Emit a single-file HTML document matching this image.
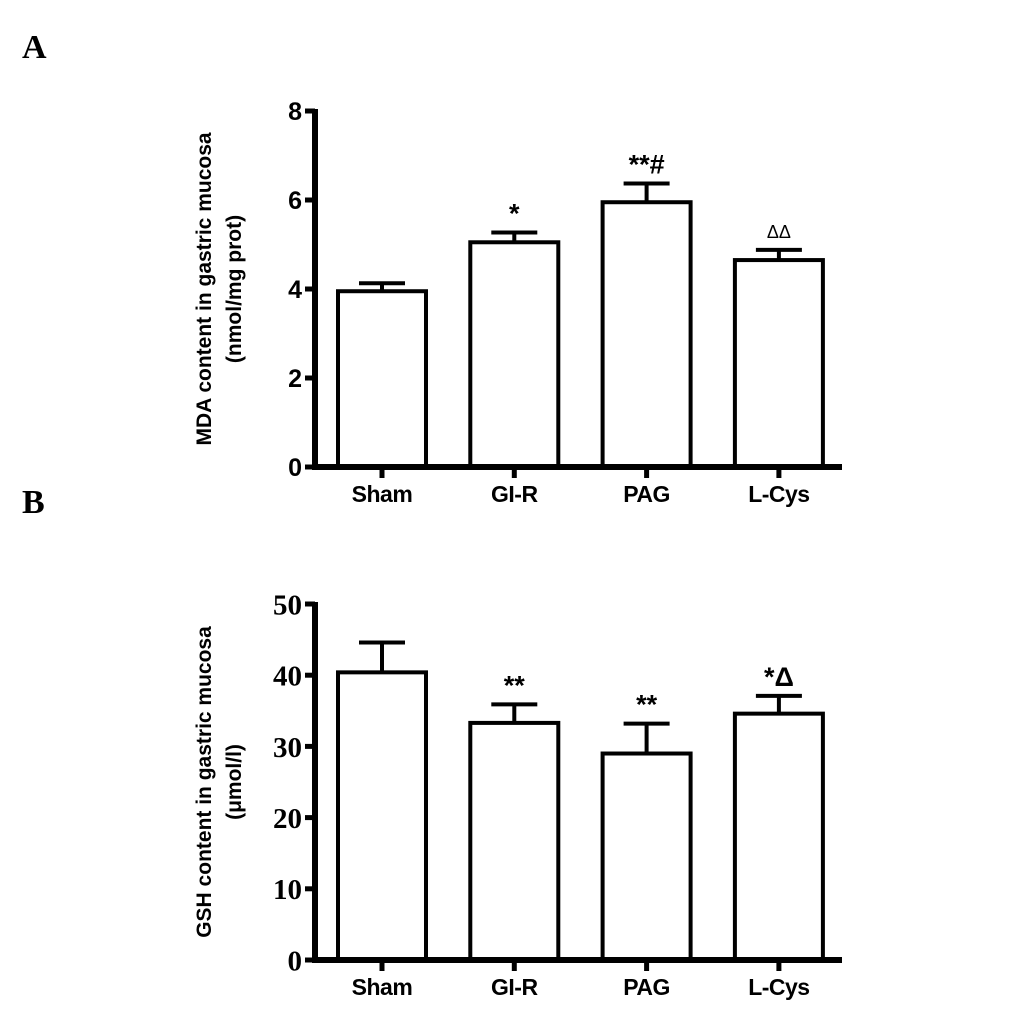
<!DOCTYPE html>
<html><head><meta charset="utf-8"><style>
body{margin:0;background:#fff;}
svg{display:block;}
</style></head><body>
<svg id="c" width="1033" height="1032" xmlns="http://www.w3.org/2000/svg">
<text x="22" y="58" font-family="Liberation Serif" font-weight="bold" font-size="34">A</text>
<text x="22" y="513" font-family="Liberation Serif" font-weight="bold" font-size="34">B</text>
<g id="ga"></g>
<g id="gb"></g>
</svg>
<script>
const categories=["Sham","GI-R","PAG","L-Cys"];
const mdaValues=[3.95,5.05,5.95,4.65];
const mdaErrors=[0.18,0.22,0.42,0.23];
const mdaMarks=["","*","**#","ΔΔ"];
const mdaTicks=[0,2,4,6,8];
const gshValues=[40.4,33.3,29.0,34.6];
const gshErrors=[4.2,2.6,4.2,2.5];
const gshMarks=["","**","**","*Δ"];
const gshTicks=[0,10,20,30,40,50];
const NS="http://www.w3.org/2000/svg";
function mk(p,t,a){const e=document.createElementNS(NS,t);for(const k in a)e.setAttribute(k,a[k]);p.appendChild(e);return e;}
function draw(g,o){
  const x0=315,x1=842,y0=o.y0,yTop=o.yTop,max=o.max;
  const y=v=>y0-(v/max)*(y0-yTop);
  const xc=i=>382+i*132.3;
  let e;
  categories.forEach((c,i)=>{
    const cx=xc(i);
    mk(g,'line',{x1:cx,y1:y0,x2:cx,y2:y0+11,stroke:'#000','stroke-width':5});
    e=mk(g,'text',{x:cx,y:y0+35,'text-anchor':'middle','font-family':'Liberation Sans','font-weight':'bold','font-size':23,'letter-spacing':'-0.5'});
    e.textContent=c;
    
    
    const v=o.vals[i],er=o.errs[i];
    mk(g,'line',{x1:cx,y1:y(v),x2:cx,y2:y(v+er),stroke:'#000','stroke-width':4});
    mk(g,'line',{x1:cx-23,y1:y(v+er),x2:cx+23,y2:y(v+er),stroke:'#000','stroke-width':4});
    e=mk(g,'rect',{x:cx-44,y:y(v),width:88,height:y0-y(v),fill:'#fff',stroke:'#000','stroke-width':4});
    
    
    if(o.marks[i]){
      const onlyD=o.marks[i].includes('Δ')&&!o.marks[i].includes('*');
      e=mk(g,'text',{x:cx,y:y(v+er)-(onlyD?12:10),'text-anchor':'middle','font-family':'Liberation Sans','font-weight':onlyD?'normal':'bold','font-size':onlyD?18:27});
      e.textContent=o.marks[i];
      
      
    }
  });
  e=mk(g,'line',{x1:x0,y1:y0,x2:x0,y2:yTop-2,stroke:'#000','stroke-width':6});
  
  
  e=mk(g,'line',{x1:x0-3,y1:y0,x2:x1,y2:y0,stroke:'#000','stroke-width':6});
  
  
  o.ticks.forEach(t=>{
    mk(g,'line',{x1:x0-10,y1:y(t),x2:x0,y2:y(t),stroke:'#000','stroke-width':5});
    e=mk(g,'text',{x:x0-13,y:y(t)+o.tfs*0.36,'text-anchor':'end','font-family':o.tfont,'font-weight':'bold','font-size':o.tfs});
    e.textContent=t;
    
    
  });
  const my=(y0+yTop)/2;
  o.title.forEach((t,k)=>{
    e=mk(g,'text',{x:0,y:0,'text-anchor':'middle','font-family':'Liberation Sans','font-weight':'bold','font-size':21,transform:`translate(${211+k*30},${my}) rotate(-90)`});
    e.textContent=t;
    
    
  });
}
draw(document.getElementById('ga'),{y0:467,yTop:111,max:8,ticks:mdaTicks,vals:mdaValues,errs:mdaErrors,marks:mdaMarks,tfont:'Liberation Sans',tfs:25,title:['MDA content in gastric mucosa','(nmol/mg prot)']});
draw(document.getElementById('gb'),{y0:960,yTop:604,max:50,ticks:gshTicks,vals:gshValues,errs:gshErrors,marks:gshMarks,tfont:'Liberation Serif',tfs:29,title:['GSH content in gastric mucosa','(μmol/l)']});
</script>
</body></html>
